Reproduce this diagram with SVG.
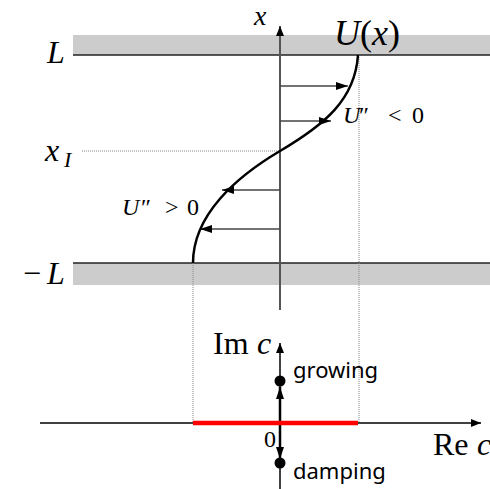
<svg xmlns="http://www.w3.org/2000/svg" width="490" height="489" viewBox="0 0 490 489">
<style>
.m{font-family:"Liberation Serif","DejaVu Serif",serif;fill:#000}
.i{font-style:italic}
.s{font-family:"Noto Sans","Liberation Sans",sans-serif;font-size:22px;fill:#000}
.band{fill:#cccccc}
.wall{stroke:#222;stroke-width:1.5;fill:none}
.dot{stroke:#888;stroke-width:1;stroke-dasharray:1 1;fill:none}
.ax{stroke:#000;stroke-width:1.5;fill:none}
.vec{stroke:#444;stroke-width:1.5;fill:none}
</style>
<defs>
<marker id="ah" markerWidth="12" markerHeight="8" refX="12" refY="4" orient="auto" markerUnits="userSpaceOnUse">
<path d="M0,0 L12,4 L0,8 Z" fill="#000"/>
</marker>
<marker id="ahs" markerWidth="10" markerHeight="8" refX="10" refY="4" orient="auto" markerUnits="userSpaceOnUse">
<path d="M0,0 L10,4 L0,8 Z" fill="#000"/>
</marker>
</defs>
<g id="walls">
<rect class="band" x="73" y="35" width="417" height="20"/>
<line class="wall" x1="73" y1="55" x2="490" y2="55"/>
<rect class="band" x="73" y="263" width="417" height="22"/>
<line class="wall" x1="73" y1="263" x2="490" y2="263"/>
</g>
<g id="guides">
<line class="dot" x1="82" y1="151" x2="280" y2="151"/>
<line class="dot" x1="359" y1="55" x2="359" y2="423"/>
<line class="dot" x1="193" y1="263" x2="193" y2="423"/>
</g>
<g id="connectors">
<line x1="280" y1="310" x2="280" y2="26" stroke="#555" stroke-width="2" marker-end="url(#ahs)"/>
<line class="vec" x1="280" y1="86" x2="348" y2="86" marker-end="url(#ah)"/>
<line class="vec" x1="280" y1="121" x2="331" y2="121" marker-end="url(#ah)"/>
<line class="vec" x1="280" y1="190" x2="222" y2="190" marker-end="url(#ah)"/>
<line class="vec" x1="280" y1="229" x2="200" y2="229" marker-end="url(#ah)"/>
<line class="ax" x1="40" y1="423" x2="481" y2="423" marker-end="url(#ahs)"/>
<line class="ax" x1="280" y1="489" x2="280" y2="343" marker-end="url(#ahs)"/>
<line x1="280" y1="423" x2="280" y2="387" stroke="#000" stroke-width="2.5" marker-end="url(#ah)"/>
<line x1="280" y1="423" x2="280" y2="459" stroke="#000" stroke-width="2.5" marker-end="url(#ah)"/>
</g>
<g id="profile">
<path d="M358,55 C355,100 324,125 280,151 C236,177 193,215 193,263" fill="none" stroke="#000" stroke-width="2.5"/>
</g>
<g id="spectrum">
<line x1="193" y1="423" x2="358" y2="423" stroke="#ff0000" stroke-width="4.5"/>
<circle cx="280" cy="381" r="5.5" fill="#000"/>
<circle cx="280" cy="463" r="5.5" fill="#000"/>
</g>
<g id="labels">
<text class="m i" x="254" y="25" font-size="28">x</text>
<text class="m i" x="47" y="63" font-size="32">L</text>
<text class="m" x="23" y="284" font-size="32">−<tspan class="i" x="47">L</tspan></text>
<text class="m" x="334" y="45" font-size="36"><tspan class="i">U</tspan>(<tspan class="i">x</tspan>)</text>
<text class="m i" x="45" y="161" font-size="32">x<tspan x="64" y="167" font-size="22">I</tspan></text>
<text class="m" y="123" font-size="24"><tspan class="i" x="343">U</tspan><tspan x="359">″</tspan><tspan x="388">&lt;</tspan><tspan x="412">0</tspan></text>
<text class="m" y="215" font-size="24"><tspan class="i" x="122">U</tspan><tspan x="141">″</tspan><tspan x="165">&gt;</tspan><tspan x="187">0</tspan></text>
<text class="m" y="354" font-size="32"><tspan x="213">Im</tspan><tspan class="i" x="257">c</tspan></text>
<text class="m" y="455" font-size="32"><tspan x="433">Re</tspan><tspan class="i" x="477">c</tspan></text>
<text class="m" x="264" y="447" font-size="24">0</text>
<text class="s" x="293" y="378">growing</text>
<text class="s" x="293" y="479">damping</text>
</g>
</svg>
